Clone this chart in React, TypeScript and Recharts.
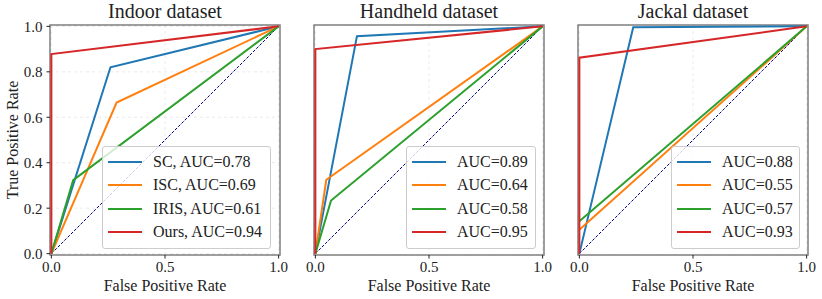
import { LineChart, Line, XAxis, YAxis, CartesianGrid, Legend, ReferenceArea } from "recharts"

const methods = ["SC", "ISC", "IRIS", "Ours"]
const xTicks = [0, 0.5, 1]
const yTicks = [0, 0.2, 0.4, 0.6, 0.8, 1]
const chance = [0, 1]

// one inner array per method, in the order of `methods`
const indoorFpr = [[0, 0.26, 1], [0, 0.287, 1], [0, 0.096, 1], [0, 0, 1]]
const indoorTpr = [[0, 0.82, 1], [0, 0.665, 1], [0, 0.323, 1], [0, 0.878, 1]]
const indoorAuc = [0.78, 0.69, 0.61, 0.94]

const handheldFpr = [[0, 0.183, 1], [0, 0.048, 1], [0, 0.069, 1], [0, 0, 1]]
const handheldTpr = [[0, 0.957, 1], [0, 0.325, 1], [0, 0.234, 1], [0, 0.9, 1]]
const handheldAuc = [0.89, 0.64, 0.58, 0.95]

const jackalFpr = [[0, 0.237, 1], [0, 1], [0, 1], [0, 0, 1]]
const jackalTpr = [[0, 0.996, 1], [0.105, 1], [0.142, 1], [0, 0.862, 1]]
const jackalAuc = [0.88, 0.55, 0.57, 0.93]

const colors = ["#1f77b4", "#ff7f0e", "#2ca02c", "#d62728"]
const font = "'Liberation Serif', 'Times New Roman', serif"
const ink = "#222"
const lo = -0.006
const hi = 1.006

const toPoints = (xs: number[], ys: number[]) => xs.map((x, i) => ({ x, y: ys[i] }))

function XTick({ x, y, payload }: any) {
    return (
        <text x={x} y={y} dy="0.71em" textAnchor="middle" style={{ fontFamily: font, fontSize: 15, fill: ink }}>
            {Number(payload.value).toFixed(1)}
        </text>
    )
}

function YTick({ x, y, payload }: any) {
    return (
        <text x={x} y={y} dy="0.355em" textAnchor="end" style={{ fontFamily: font, fontSize: 15, fill: ink }}>
            {Number(payload.value).toFixed(1)}
        </text>
    )
}

function LegendBox({ payload, width }: any) {
    const items = (payload || [])
        .filter((p: any) => colors.includes(p.color))
        .sort((a: any, b: any) => colors.indexOf(a.color) - colors.indexOf(b.color))
    return (
        <div
            style={{
                width,
                boxSizing: "border-box",
                border: "1px solid #cccccc",
                borderRadius: 3,
                background: "rgba(255,255,255,0.8)",
                padding: "3px 0 4px 0",
                fontFamily: font,
                fontSize: 16,
                color: ink,
            }}
        >
            {items.map((p: any) => (
                <div key={p.value} style={{ display: "flex", alignItems: "center", height: 23.5 }}>
                    <div style={{ width: 34, height: 2, background: p.color, marginLeft: 5, marginRight: 11 }} />
                    <span>{p.value}</span>
                </div>
            ))}
        </div>
    )
}

interface PanelProps {
    title: string
    fpr: number[][]
    tpr: number[][]
    auc: number[]
    withNames: boolean
    first: boolean
    left: number
    legendLeft: number
    legendWidth: number
}

function RocPanel({ title, fpr, tpr, auc, withNames, first, left, legendLeft, legendWidth }: PanelProps) {
    return (
        <div style={{ position: "absolute", left, top: 0, width: 290, height: 299, fontFamily: font, color: ink }}>
            <div
                style={{
                    position: "absolute",
                    left: 50,
                    width: 230,
                    top: 1,
                    textAlign: "center",
                    fontSize: 20,
                    lineHeight: "20px",
                }}
            >
                {title}
            </div>
            <div
                style={{
                    position: "absolute",
                    left: 50,
                    width: 230,
                    top: 278,
                    textAlign: "center",
                    fontSize: 16,
                    lineHeight: "16px",
                }}
            >
                False Positive Rate
            </div>
            {first && (
                <div
                    style={{
                        position: "absolute",
                        left: 13 - 100,
                        top: 140 - 10,
                        width: 200,
                        height: 20,
                        lineHeight: "20px",
                        textAlign: "center",
                        fontSize: 16,
                        transform: "rotate(-90deg)",
                    }}
                >
                    True Positive Rate
                </div>
            )}
            <LineChart width={290} height={299} margin={{ top: 25, right: 10, bottom: 0, left: 4 }}>
                <CartesianGrid stroke="#e6e6e6" strokeDasharray="3 3" strokeWidth={0.8} />
                <XAxis
                    type="number"
                    dataKey="x"
                    domain={[lo, hi]}
                    ticks={xTicks}
                    height={44}
                    axisLine={false}
                    tickSize={3.5}
                    tickMargin={3}
                    tick={<XTick />}
                    tickLine={{ stroke: ink }}
                />
                <YAxis
                    type="number"
                    dataKey="y"
                    domain={[lo, hi]}
                    ticks={yTicks}
                    width={46}
                    axisLine={false}
                    tickSize={3.5}
                    tickMargin={4}
                    tick={first ? <YTick /> : false}
                    tickLine={{ stroke: ink }}
                />
                <Line
                    data={toPoints(chance, chance)}
                    dataKey="y"
                    stroke="#000080"
                    strokeWidth={1}
                    strokeDasharray="3 1.6"
                    dot={false}
                    legendType="none"
                    isAnimationActive={false}
                />
                {methods.map((m, i) => (
                    <Line
                        key={m}
                        data={toPoints(fpr[i], tpr[i])}
                        dataKey="y"
                        name={withNames ? `${m}, AUC=${auc[i].toFixed(2)}` : `AUC=${auc[i].toFixed(2)}`}
                        stroke={colors[i]}
                        strokeWidth={2}
                        dot={false}
                        isAnimationActive={false}
                    />
                ))}
                <ReferenceArea
                    x1={lo}
                    x2={hi}
                    y1={lo}
                    y2={hi}
                    fill="none"
                    stroke="#808080"
                    strokeWidth={1.5}
                    ifOverflow="visible"
                />
                <Legend
                    layout="vertical"
                    align="center"
                    verticalAlign="middle"
                    wrapperStyle={{ left: legendLeft, top: 146, width: legendWidth }}
                    content={(props: any) => <LegendBox payload={props.payload} width={legendWidth} />}
                />
            </LineChart>
        </div>
    )
}

export default function App() {
    return (
        <div style={{ position: "absolute", left: 0, top: 0, width: 822, height: 299, background: "#fff" }}>
            <RocPanel
                title="Indoor dataset"
                fpr={indoorFpr}
                tpr={indoorTpr}
                auc={indoorAuc}
                withNames
                first
                left={0}
                legendLeft={102}
                legendWidth={169}
            />
            <RocPanel
                title="Handheld dataset"
                fpr={handheldFpr}
                tpr={handheldTpr}
                auc={handheldAuc}
                withNames={false}
                first={false}
                left={264}
                legendLeft={142}
                legendWidth={130}
            />
            <RocPanel
                title="Jackal dataset"
                fpr={jackalFpr}
                tpr={jackalTpr}
                auc={jackalAuc}
                withNames={false}
                first={false}
                left={528}
                legendLeft={143}
                legendWidth={129}
            />
        </div>
    )
}
